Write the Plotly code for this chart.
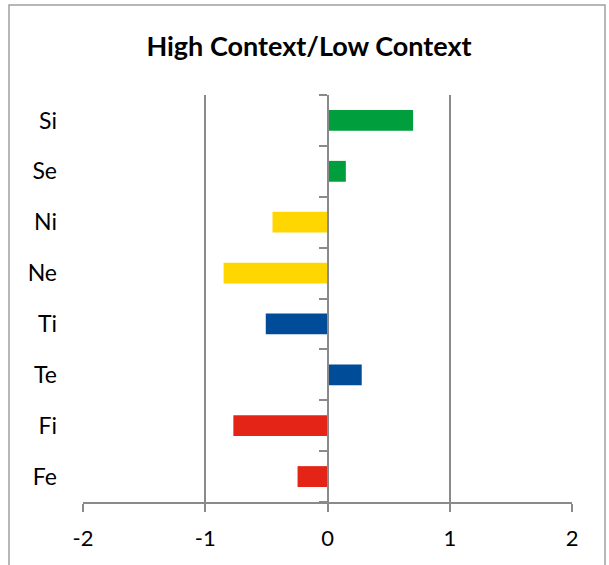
import plotly.graph_objects as go

categories = ["Fe", "Fi", "Te", "Ti", "Ne", "Ni", "Se", "Si"]
values = [-0.245, -0.77, 0.28, -0.505, -0.85, -0.45, 0.15, 0.70]
bar_colors = ["#E32416", "#E32416", "#004C99", "#004C99",
              "#FFD600", "#FFD600", "#009E3D", "#009E3D"]
x_ticks = [-2, -1, 0, 1, 2]

W, H = 609, 565
OFF = 0  # page body margin removed via post_script
PL, PR, PT, PB = 83, 572, 95, 502  # plot area in screen pixels
L = PL - OFF
T = PT - OFF
R = W - L - (PR - PL)
B = H - T - (PB - PT)
grid = "#8a8a8a"
font = "Lato"

fig = go.Figure()
fig.add_trace(go.Bar(
    y=categories, x=values, orientation="h",
    marker=dict(color=bar_colors, line=dict(width=0)),
    width=0.41, showlegend=False, hoverinfo="x+y",
))
# invisible trace to draw the category axis at x = 0
fig.add_trace(go.Scatter(
    y=categories, x=[0] * len(categories), yaxis="y2", mode="none",
    showlegend=False, hoverinfo="skip",
))

fig.update_layout(
    width=W, height=H,
    margin=dict(l=L, r=R, t=T, b=B),
    paper_bgcolor="white", plot_bgcolor="white",
    font=dict(family=font, color="#000000", size=22),
    title=dict(text="<b>High Context/Low Context</b>", x=(309 - OFF) / W, xanchor="center",
               y=1 - (47 - OFF) / H, yanchor="middle",
               font=dict(family=font, size=27, color="#000000")),
    xaxis=dict(range=[-2, 2], tickvals=x_ticks, ticktext=[str(v) for v in x_ticks],
               showgrid=True, gridcolor=grid, gridwidth=1.5, zeroline=False,
               showline=True, linecolor=grid, linewidth=1.5,
               ticks="outside", ticklen=8, tickcolor=grid, tickwidth=1.5,
               ticklabelstandoff=8,
               tickfont=dict(size=22), fixedrange=True),
    yaxis=dict(type="category", categoryorder="array", categoryarray=categories,
               range=[-0.5, 7.5], showgrid=False, zeroline=False, showline=False,
               ticks="", ticklabelstandoff=25, tickfont=dict(size=23), fixedrange=True),
    yaxis2=dict(type="category", categoryorder="array", categoryarray=categories,
                range=[-0.5, 7.5], overlaying="y", anchor="free", position=0.5,
                side="left", showline=True, linecolor=grid, linewidth=1.5,
                ticks="outside", ticklen=8, tickcolor=grid, tickwidth=1.5,
                tickson="boundaries", showticklabels=False, showgrid=False,
                zeroline=False, fixedrange=True),
    bargap=0.59,
)

# chart-area border
pw, ph = PR - PL, PB - PT
fig.add_shape(type="rect", xref="paper", yref="paper",
              x0=(9 - PL) / pw, x1=(605 - PL) / pw,
              y0=-(H + 20 - PB) / ph, y1=1 + (PT - 5) / ph,
              line=dict(color="#a0a0a0", width=1.5), fillcolor="rgba(0,0,0,0)", layer="below")

fig.write_html(
    "out.html",
    config={"displayModeBar": False},
    post_script="document.body.style.margin='0';document.body.style.overflow='hidden';",
)
